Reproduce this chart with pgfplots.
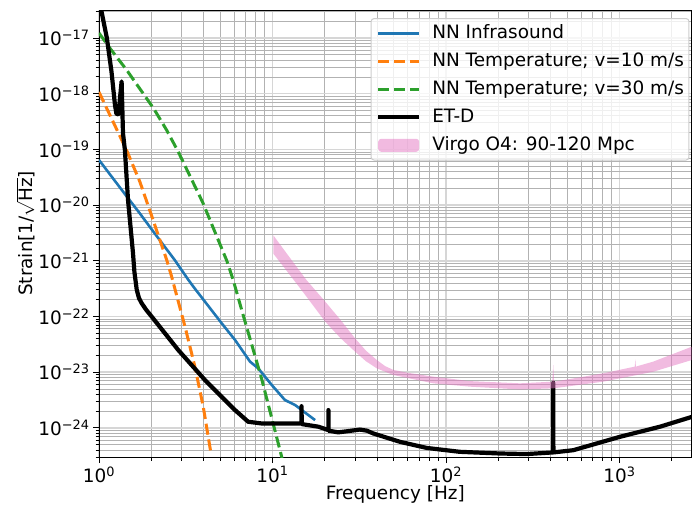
\documentclass[border=0pt]{standalone}
\usepackage{pgfplots}
\pgfplotsset{compat=1.18}
\usepackage{fontspec}
\setmainfont{DejaVu Sans}
\definecolor{tabblue}{HTML}{1F77B4}
\definecolor{taborange}{HTML}{FF7F0E}
\definecolor{tabgreen}{HTML}{2CA02C}
\definecolor{tabpink}{HTML}{E377C2}
\newcommand{\fsz}{\fontsize{18.5}{22}\selectfont}
\newcommand{\tl}[1]{10\textsuperscript{#1}}
\begin{document}
\begin{tikzpicture}
\begin{axis}[
  xmode=log, ymode=log,
  scale only axis, width=592.5bp, height=447bp,
  xmin=1, xmax=2600, ymin=3e-25, ymax=3.18e-17,
  xtick={1,10,100,1000},
  xticklabels={\tl{0},\tl{1},\tl{2},\tl{3}},
  minor xtick={2,3,4,5,6,7,8,9,20,30,40,50,60,70,80,90,200,300,400,500,600,700,800,900,2000},
  ytick={1e-24,1e-23,1e-22,1e-21,1e-20,1e-19,1e-18,1e-17},
  yticklabels={\tl{−24},\tl{−23},\tl{−22},\tl{−21},\tl{−20},\tl{−19},\tl{−18},\tl{−17}},
  minor ytick={2e-25,3e-25,4e-25,5e-25,6e-25,7e-25,8e-25,9e-25,
    2e-24,3e-24,4e-24,5e-24,6e-24,7e-24,8e-24,9e-24,
    2e-23,3e-23,4e-23,5e-23,6e-23,7e-23,8e-23,9e-23,
    2e-22,3e-22,4e-22,5e-22,6e-22,7e-22,8e-22,9e-22,
    2e-21,3e-21,4e-21,5e-21,6e-21,7e-21,8e-21,9e-21,
    2e-20,3e-20,4e-20,5e-20,6e-20,7e-20,8e-20,9e-20,
    2e-19,3e-19,4e-19,5e-19,6e-19,7e-19,8e-19,9e-19,
    2e-18,3e-18,4e-18,5e-18,6e-18,7e-18,8e-18,9e-18,
    2e-17,3e-17},
  grid=both,
  major grid style={black!16, line width=1.6bp},
  minor grid style={black!30, line width=0.8bp},
  tick align=outside, tick pos=left,
  major tick length=6bp, minor tick length=3.5bp,
  every tick/.style={black, line width=0.9bp},
  axis line style={line width=0.9bp},
  tick label style={font=\fsz},
  label style={font=\fsz},
  xlabel={Frequency [Hz]},
  ylabel={Strain[1/$\sqrt{\hbox{Hz}}$]},
  xlabel style={at={(axis description cs:0.5,-0.094)}, anchor=base},
  ylabel style={at={(axis description cs:-0.1114,0.5)}, anchor=base},
  legend style={
    at={(axis description cs:0.9966,0.982)}, anchor=north east,
    draw=black!20, line width=1bp, rounded corners=3bp,
    fill=white, fill opacity=0.8, text opacity=1,
    font=\fsz, inner xsep=5bp, inner ysep=6bp,
    row sep=10.5bp,
    nodes={inner sep=0pt, text height=13.5bp, text depth=4bp},
    /tikz/every odd column/.append style={column sep=11bp},
  },
  legend cell align=left,
  legend image code/.code={\draw[#1] (0bp,0bp) -- (41bp,0bp);},
]
\addplot[tabblue, line width=2.6bp, line join=round] coordinates {
(1,6.46e-20) (1.41,1.58e-20) (1.72,7.08e-21) (2.05,3.39e-21) (2.74,1.02e-21)
(3.27,4.57e-22) (3.57,3.16e-22) (5.09,7.59e-23) (6.08,3.80e-23) (7.42,1.55e-23)
(8.28,1.17e-23) (9.9,5.89e-24) (11.8,3.16e-24) (13.5,2.57e-24) (17.6,1.38e-24)
};
\addlegendentry{NN Infrasound}
\addplot[taborange, line width=3bp, dash pattern=on 11.1bp off 4.8bp] coordinates {
(1,1.07e-18) (1.44,9.77e-20) (1.72,2.63e-20) (2.0,6.76e-21) (2.46,1.02e-21)
(2.62,5.25e-22) (3.13,6.61e-23) (3.57,1.26e-23) (3.99,2.40e-24) (4.42,3.47e-25)
};
\addlegendentry{NN Temperature; v=10 m/s}
\addplot[tabgreen, line width=3bp, dash pattern=on 11.1bp off 4.8bp] coordinates {
(1,1.23e-17) (1.157,6.53e-18) (1.444,2.66e-18) (2.06,5.50e-19) (2.45,2.24e-19)
(2.86,9.12e-20) (3.97,1.10e-20) (5.44,1.02e-21) (5.93,4.57e-22) (6.64,1.32e-22)
(8.66,7.59e-24) (11.3,3.02e-25) (11.7,1.78e-25)
};
\addlegendentry{NN Temperature; v=30 m/s}
\addplot[black, line width=4.2bp, line join=round] coordinates {
(1.0,5.0e-17) (1.11,1.0e-17) (1.18,2.51e-18) (1.236,6.31e-19) (1.26,4.37e-19)
(1.29,4.27e-19) (1.31,6.31e-19) (1.35,1.66e-18) (1.375,1.95e-19) (1.41,9.77e-20)
(1.47,1.23e-20) (1.57,1.38e-21) (1.60,6.31e-22) (1.65,3.02e-22) (1.70,2.14e-22)
(1.76,1.74e-22) (1.87,1.32e-22) (2.01,1.0e-22)
(2.86,2.51e-23) (4.08,7.24e-24) (6.08,2.09e-24) (7.24,1.29e-24) (8.66,1.20e-24)
(13.5,1.20e-24) (14.7,1.20e-24) (14.7,2.45e-24) (14.75,1.17e-24) (18.4,1.05e-24)
(21.0,9.12e-25) (21.0,2.09e-24) (21.05,8.91e-25) (23.9,8.32e-25) (27,8.71e-25)
(31.9,9.33e-25) (35,8.91e-25) (38.1,7.94e-25) (54.3,5.62e-25) (77.4,4.37e-25)
(120,3.72e-25) (205,3.47e-25) (292,3.39e-25) (415,3.63e-25) (415,6.46e-24)
(416,3.63e-25) (542,3.98e-25) (1006,6.92e-25) (1711,1.05e-24) (2618,1.58e-24)
};
\addlegendentry{ET-D}
\addplot[draw=none, fill=tabpink, fill opacity=0.5,
  legend image code/.code={\fill[tabpink, fill opacity=0.5] (0bp,-6.5bp) rectangle (41bp,6.5bp);}] coordinates {
(10.1,2.88e-21) (12.5,1.17e-21) (15.7,4.52e-22) (20.1,1.86e-22) (24.5,8.91e-23)
(29.9,4.07e-23) (34.5,2.45e-23) (39.9,1.66e-23) (44.5,1.29e-23) (49.7,1.10e-23)
(60,9.77e-24) (84.5,8.32e-24) (137,6.92e-24) (267,6.31e-24) (410,6.76e-24)
(415,1.35e-23) (420,6.76e-24) (807,9.55e-24) (1225,1.26e-23) (1234,1.70e-23)
(1243,1.26e-23) (1566,1.55e-23) (2618,2.88e-23)
(2618,1.66e-23) (1566,1.02e-23) (807,6.76e-24) (415,5.13e-24) (267,4.90e-24)
(137,5.50e-24) (84.5,6.31e-24) (49.7,8.91e-24) (39.9,1.17e-23) (34.5,1.58e-23)
(29.9,2.34e-23) (24.5,4.17e-23) (20.1,8.13e-23) (14.4,3.24e-22) (10.1,1.35e-21)
};
\addlegendentry{Virgo O4: 90-120 Mpc}
\end{axis}
\pgfresetboundingbox
\path (current axis.south west) ++(-99bp,-53bp) rectangle ++(692bp,510bp);
\end{tikzpicture}
\end{document}
